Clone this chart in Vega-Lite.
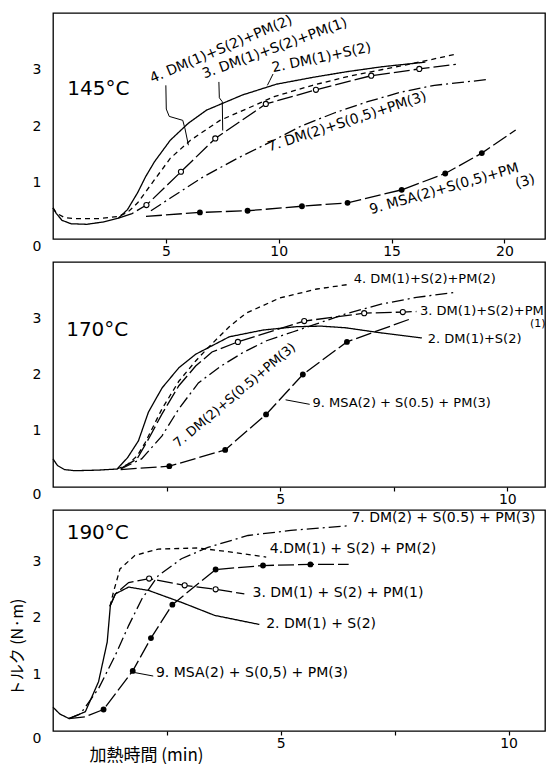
{
"$schema":"https://vega.github.io/schema/vega-lite/v6.json",
"padding":{"left":8,"top":12,"right":0,"bottom":0},
"background":"white",
"config":{"font":"DejaVu Sans","view":{"stroke":"black","strokeWidth":1.3},"axis":{"labelColor":"black","labelFontSize":14,"labelFont":"DejaVu Sans","grid":false,"domain":false,"tickColor":"black","tickWidth":1.2}},
"spacing":2,
"datasets":{
"curves":[
{"p":1,"s":"2","x":0,"y":0.55},{"p":1,"s":"2","x":0.15,"y":0.45},{"p":1,"s":"2","x":0.4,"y":0.33},{"p":1,"s":"2","x":0.8,"y":0.27},{"p":1,"s":"2","x":1.5,"y":0.26},{"p":1,"s":"2","x":2.2,"y":0.3},{"p":1,"s":"2","x":2.9,"y":0.37},{"p":1,"s":"2","x":3.3,"y":0.52},{"p":1,"s":"2","x":3.75,"y":0.82},{"p":1,"s":"2","x":4.1,"y":1.1},{"p":1,"s":"2","x":4.5,"y":1.37},{"p":1,"s":"2","x":5.2,"y":1.75},{"p":1,"s":"2","x":6.0,"y":2.05},{"p":1,"s":"2","x":6.8,"y":2.28},{"p":1,"s":"2","x":8.4,"y":2.55},{"p":1,"s":"2","x":9.9,"y":2.74},{"p":1,"s":"2","x":11.5,"y":2.86},{"p":1,"s":"2","x":13,"y":2.96},{"p":1,"s":"2","x":14.6,"y":3.05},{"p":1,"s":"2","x":16.5,"y":3.13},
{"p":1,"s":"4","x":0,"y":0.55},{"p":1,"s":"4","x":0.15,"y":0.46},{"p":1,"s":"4","x":0.5,"y":0.38},{"p":1,"s":"4","x":1,"y":0.36},{"p":1,"s":"4","x":2,"y":0.36},{"p":1,"s":"4","x":2.9,"y":0.4},{"p":1,"s":"4","x":3.3,"y":0.47},{"p":1,"s":"4","x":3.75,"y":0.64},{"p":1,"s":"4","x":4.5,"y":1.05},{"p":1,"s":"4","x":5.2,"y":1.43},{"p":1,"s":"4","x":6.1,"y":1.75},{"p":1,"s":"4","x":7.4,"y":2.1},{"p":1,"s":"4","x":8.9,"y":2.36},{"p":1,"s":"4","x":9.8,"y":2.52},{"p":1,"s":"4","x":11.5,"y":2.72},{"p":1,"s":"4","x":13,"y":2.87},{"p":1,"s":"4","x":14.6,"y":3.0},{"p":1,"s":"4","x":16.1,"y":3.12},{"p":1,"s":"4","x":17.85,"y":3.27},
{"p":1,"s":"3","x":2.9,"y":0.37},{"p":1,"s":"3","x":3.5,"y":0.45},{"p":1,"s":"3","x":4.14,"y":0.6},{"p":1,"s":"3","x":5.67,"y":1.19},{"p":1,"s":"3","x":7.19,"y":1.78},{"p":1,"s":"3","x":9.43,"y":2.39},{"p":1,"s":"3","x":11.65,"y":2.64},{"p":1,"s":"3","x":14.1,"y":2.89},{"p":1,"s":"3","x":16.23,"y":3.01},{"p":1,"s":"3","x":17.85,"y":3.09},
{"p":1,"s":"7","x":4.34,"y":0.5},{"p":1,"s":"7","x":5.22,"y":0.73},{"p":1,"s":"7","x":6.7,"y":1.11},{"p":1,"s":"7","x":8.18,"y":1.43},{"p":1,"s":"7","x":9.65,"y":1.72},{"p":1,"s":"7","x":11.0,"y":2.0},{"p":1,"s":"7","x":12.46,"y":2.23},{"p":1,"s":"7","x":13.94,"y":2.43},{"p":1,"s":"7","x":15.42,"y":2.6},{"p":1,"s":"7","x":16.9,"y":2.72},{"p":1,"s":"7","x":19.2,"y":2.82},
{"p":1,"s":"9","x":4.12,"y":0.4},{"p":1,"s":"9","x":6.51,"y":0.47},{"p":1,"s":"9","x":8.62,"y":0.5},{"p":1,"s":"9","x":11.03,"y":0.58},{"p":1,"s":"9","x":13.05,"y":0.64},{"p":1,"s":"9","x":15.45,"y":0.87},{"p":1,"s":"9","x":17.38,"y":1.16},{"p":1,"s":"9","x":19.0,"y":1.52},{"p":1,"s":"9","x":20.5,"y":1.93},
{"p":2,"s":"2","x":0,"y":0.5},{"p":2,"s":"2","x":0.1,"y":0.38},{"p":2,"s":"2","x":0.25,"y":0.31},{"p":2,"s":"2","x":0.48,"y":0.29},{"p":2,"s":"2","x":1.0,"y":0.3},{"p":2,"s":"2","x":1.41,"y":0.32},{"p":2,"s":"2","x":1.64,"y":0.52},{"p":2,"s":"2","x":1.88,"y":0.82},{"p":2,"s":"2","x":2.1,"y":1.33},{"p":2,"s":"2","x":2.4,"y":1.76},{"p":2,"s":"2","x":2.77,"y":2.12},{"p":2,"s":"2","x":3.14,"y":2.36},{"p":2,"s":"2","x":3.88,"y":2.67},{"p":2,"s":"2","x":4.62,"y":2.79},{"p":2,"s":"2","x":5.36,"y":2.85},{"p":2,"s":"2","x":5.9,"y":2.86},{"p":2,"s":"2","x":6.45,"y":2.83},{"p":2,"s":"2","x":7.22,"y":2.74},{"p":2,"s":"2","x":8.12,"y":2.65},
{"p":2,"s":"4","x":1.41,"y":0.32},{"p":2,"s":"4","x":1.64,"y":0.4},{"p":2,"s":"4","x":1.85,"y":0.55},{"p":2,"s":"4","x":2.03,"y":0.79},{"p":2,"s":"4","x":2.4,"y":1.39},{"p":2,"s":"4","x":2.77,"y":1.88},{"p":2,"s":"4","x":3.14,"y":2.24},{"p":2,"s":"4","x":3.43,"y":2.49},{"p":2,"s":"4","x":3.88,"y":2.85},{"p":2,"s":"4","x":4.25,"y":3.09},{"p":2,"s":"4","x":4.99,"y":3.36},{"p":2,"s":"4","x":5.81,"y":3.52},{"p":2,"s":"4","x":6.5,"y":3.6},
{"p":2,"s":"3","x":1.49,"y":0.33},{"p":2,"s":"3","x":1.85,"y":0.5},{"p":2,"s":"3","x":2.1,"y":0.85},{"p":2,"s":"3","x":2.4,"y":1.3},{"p":2,"s":"3","x":2.77,"y":1.8},{"p":2,"s":"3","x":3.14,"y":2.15},{"p":2,"s":"3","x":3.5,"y":2.4},{"p":2,"s":"3","x":4.07,"y":2.58},{"p":2,"s":"3","x":5.53,"y":2.95},{"p":2,"s":"3","x":6.85,"y":3.09},{"p":2,"s":"3","x":7.7,"y":3.11},{"p":2,"s":"3","x":8.0,"y":3.12},
{"p":2,"s":"7","x":1.49,"y":0.32},{"p":2,"s":"7","x":1.95,"y":0.5},{"p":2,"s":"7","x":2.4,"y":0.91},{"p":2,"s":"7","x":2.77,"y":1.39},{"p":2,"s":"7","x":3.2,"y":1.85},{"p":2,"s":"7","x":3.7,"y":2.15},{"p":2,"s":"7","x":4.18,"y":2.39},{"p":2,"s":"7","x":4.7,"y":2.6},{"p":2,"s":"7","x":5.29,"y":2.76},{"p":2,"s":"7","x":5.8,"y":2.9},{"p":2,"s":"7","x":6.45,"y":3.08},{"p":2,"s":"7","x":7.22,"y":3.25},{"p":2,"s":"7","x":8.0,"y":3.37},{"p":2,"s":"7","x":8.85,"y":3.46},
{"p":2,"s":"9","x":1.49,"y":0.31},{"p":2,"s":"9","x":2.56,"y":0.37},{"p":2,"s":"9","x":3.79,"y":0.66},{"p":2,"s":"9","x":4.69,"y":1.29},{"p":2,"s":"9","x":5.5,"y":2.0},{"p":2,"s":"9","x":6.47,"y":2.58},{"p":2,"s":"9","x":7.84,"y":2.98},
{"p":3,"s":"2","x":0,"y":0.42},{"p":3,"s":"2","x":0.15,"y":0.3},{"p":3,"s":"2","x":0.35,"y":0.22},{"p":3,"s":"2","x":0.71,"y":0.34},{"p":3,"s":"2","x":1.0,"y":0.87},{"p":3,"s":"2","x":1.19,"y":1.57},{"p":3,"s":"2","x":1.26,"y":2.22},{"p":3,"s":"2","x":1.37,"y":2.42},{"p":3,"s":"2","x":1.66,"y":2.54},{"p":3,"s":"2","x":2.1,"y":2.48},{"p":3,"s":"2","x":2.82,"y":2.27},{"p":3,"s":"2","x":3.55,"y":2.04},{"p":3,"s":"2","x":4.53,"y":1.88},
{"p":3,"s":"4","x":1.25,"y":2.2},{"p":3,"s":"4","x":1.33,"y":2.46},{"p":3,"s":"4","x":1.47,"y":2.86},{"p":3,"s":"4","x":1.8,"y":3.1},{"p":3,"s":"4","x":2.31,"y":3.21},{"p":3,"s":"4","x":3.18,"y":3.23},{"p":3,"s":"4","x":3.98,"y":3.15},{"p":3,"s":"4","x":4.68,"y":3.07},
{"p":3,"s":"3","x":1.25,"y":2.2},{"p":3,"s":"3","x":1.37,"y":2.42},{"p":3,"s":"3","x":1.66,"y":2.62},{"p":3,"s":"3","x":2.11,"y":2.69},{"p":3,"s":"3","x":2.89,"y":2.57},{"p":3,"s":"3","x":3.57,"y":2.5},{"p":3,"s":"3","x":4.2,"y":2.42},
{"p":3,"s":"7","x":0.35,"y":0.22},{"p":3,"s":"7","x":0.6,"y":0.3},{"p":3,"s":"7","x":1.0,"y":0.75},{"p":3,"s":"7","x":1.37,"y":1.34},{"p":3,"s":"7","x":1.66,"y":1.86},{"p":3,"s":"7","x":1.95,"y":2.33},{"p":3,"s":"7","x":2.31,"y":2.74},{"p":3,"s":"7","x":2.82,"y":3.04},{"p":3,"s":"7","x":3.4,"y":3.24},{"p":3,"s":"7","x":4.28,"y":3.45},{"p":3,"s":"7","x":5.22,"y":3.54},{"p":3,"s":"7","x":6.45,"y":3.62},
{"p":3,"s":"9","x":0.35,"y":0.22},{"p":3,"s":"9","x":0.7,"y":0.25},{"p":3,"s":"9","x":1.11,"y":0.38},{"p":3,"s":"9","x":1.75,"y":1.06},{"p":3,"s":"9","x":2.15,"y":1.64},{"p":3,"s":"9","x":2.62,"y":2.23},{"p":3,"s":"9","x":3.57,"y":2.85},{"p":3,"s":"9","x":4.61,"y":2.92},{"p":3,"s":"9","x":5.65,"y":2.94},{"p":3,"s":"9","x":6.49,"y":2.94}
],
"markers":[
{"p":1,"s":"3","x":4.14,"y":0.6},{"p":1,"s":"3","x":5.67,"y":1.19},{"p":1,"s":"3","x":7.19,"y":1.78},{"p":1,"s":"3","x":9.43,"y":2.39},{"p":1,"s":"3","x":11.65,"y":2.64},{"p":1,"s":"3","x":14.1,"y":2.89},{"p":1,"s":"3","x":16.23,"y":3.01},
{"p":1,"s":"9","x":6.51,"y":0.47},{"p":1,"s":"9","x":8.62,"y":0.5},{"p":1,"s":"9","x":11.03,"y":0.58},{"p":1,"s":"9","x":13.05,"y":0.64},{"p":1,"s":"9","x":15.45,"y":0.87},{"p":1,"s":"9","x":17.38,"y":1.16},{"p":1,"s":"9","x":19.0,"y":1.52},
{"p":2,"s":"3","x":4.07,"y":2.58},{"p":2,"s":"3","x":5.53,"y":2.95},{"p":2,"s":"3","x":6.85,"y":3.09},{"p":2,"s":"3","x":7.7,"y":3.11},
{"p":2,"s":"9","x":2.56,"y":0.37},{"p":2,"s":"9","x":3.79,"y":0.66},{"p":2,"s":"9","x":4.69,"y":1.29},{"p":2,"s":"9","x":5.5,"y":2.0},{"p":2,"s":"9","x":6.47,"y":2.58},
{"p":3,"s":"3","x":2.11,"y":2.69},{"p":3,"s":"3","x":2.89,"y":2.57},{"p":3,"s":"3","x":3.57,"y":2.5},
{"p":3,"s":"9","x":1.11,"y":0.38},{"p":3,"s":"9","x":1.75,"y":1.06},{"p":3,"s":"9","x":2.15,"y":1.64},{"p":3,"s":"9","x":2.62,"y":2.23},{"p":3,"s":"9","x":3.57,"y":2.85},{"p":3,"s":"9","x":4.61,"y":2.92},{"p":3,"s":"9","x":5.65,"y":2.94}
],
"leads":[
{"p":1,"id":"a","x":5.0,"y":2.72},{"p":1,"id":"a","x":5.02,"y":2.3},{"p":1,"id":"a","x":5.15,"y":2.17},{"p":1,"id":"a","x":5.75,"y":2.1},{"p":1,"id":"a","x":5.85,"y":1.95},{"p":1,"id":"a","x":6.0,"y":1.66},
{"p":1,"id":"b","x":7.35,"y":2.78},{"p":1,"id":"b","x":7.37,"y":2.5},{"p":1,"id":"b","x":7.5,"y":2.43},{"p":1,"id":"b","x":7.52,"y":1.92},
{"p":1,"id":"c","x":9.5,"y":2.72},{"p":1,"id":"c","x":9.6,"y":2.8},{"p":1,"id":"c","x":9.75,"y":2.92},
{"p":2,"id":"d","x":5.12,"y":1.55},{"p":2,"id":"d","x":5.65,"y":1.47},
{"p":3,"id":"e","x":1.8,"y":1.03},{"p":3,"id":"e","x":2.2,"y":0.97}
],
"labels":[
{"p":1,"id":"t","text":"145°C","x":0.63,"y":2.66},
{"p":1,"id":"r4","text":"4. DM(1)+S(2)+PM(2)","x":4.4,"y":2.76},
{"p":1,"id":"r3","text":"3. DM(1)+S(2)+PM(1)","x":6.7,"y":2.84},
{"p":1,"id":"r2","text":"2. DM(1)+S(2)","x":9.75,"y":2.95},
{"p":1,"id":"r7","text":"7. DM(2)+S(0,5)+PM(3)","x":9.58,"y":1.55},
{"p":1,"id":"r9","text":"9. MSA(2)+S(0,5)+PM","x":14.09,"y":0.44},
{"p":1,"id":"r9","text":"(3)","x":20.55,"y":0.9},
{"p":2,"id":"t","text":"170°C","x":0.29,"y":2.8},
{"p":2,"id":"h","text":"4. DM(1)+S(2)+PM(2)","x":6.62,"y":3.7},
{"p":2,"id":"h","text":"3. DM(1)+S(2)+PM","x":8.08,"y":3.13},
{"p":2,"id":"s","text":"(1)","x":10.5,"y":2.9},
{"p":2,"id":"h","text":"2. DM(1)+S(2)","x":8.25,"y":2.64},
{"p":2,"id":"h","text":"9. MSA(2) + S(0.5) + PM(3)","x":5.71,"y":1.49},
{"p":2,"id":"r7","text":"7. DM(2)+S(0.5)+PM(3)","x":4.0,"y":1.63},
{"p":3,"id":"t","text":"190°C","x":0.3,"y":3.5},
{"p":3,"id":"h","text":"7. DM(2) + S(0.5) + PM(3)","x":6.55,"y":3.76},
{"p":3,"id":"h","text":"4.DM(1) + S(2) + PM(2)","x":4.76,"y":3.21},
{"p":3,"id":"h","text":"3. DM(1) + S(2) + PM(1)","x":4.38,"y":2.43},
{"p":3,"id":"h","text":"2. DM(1) + S(2)","x":4.68,"y":1.88},
{"p":3,"id":"h","text":"9. MSA(2) + S(0,5) + PM(3)","x":2.26,"y":1.02}
]
},
"vconcat":[
{"width":492,"height":226,
"layer":[
{"data":{"name":"curves"},"transform":[{"filter":"datum.p==1"}],"mark":{"type":"line","color":"black","strokeWidth":1.3},
"encoding":{"x":{"field":"x","type":"quantitative","scale":{"domain":[0,21.8],"nice":false,"zero":false},"axis":{"values":[5,10,15,20],"title":null,"tickSize":4,"labelPadding":1}},
"y":{"field":"y","type":"quantitative","scale":{"domain":[0,4],"nice":false},"axis":{"values":[0,1,2,3],"format":"d","title":null,"ticks":false,"labelPadding":12,"labelBaseline":{"condition":{"test":"datum.value==0","value":"top"},"value":"middle"}}},
"detail":{"field":"s"},
"strokeDash":{"field":"s","type":"nominal","scale":{"domain":["2","3","4","7","9"],"range":[[1,0],[16,4],[5,4],[12,4,2,4],[16,4]]},"legend":null}}},
{"data":{"name":"leads"},"transform":[{"filter":"datum.p==1"}],"mark":{"type":"line","color":"black","strokeWidth":1},"encoding":{"x":{"field":"x","type":"quantitative"},"y":{"field":"y","type":"quantitative"},"detail":{"field":"id"}}},
{"data":{"name":"markers"},"transform":[{"filter":"datum.p==1 && datum.s=='3'"}],"mark":{"type":"point","shape":"circle","filled":true,"fill":"white","stroke":"black","strokeWidth":1.1,"size":26,"opacity":1},"encoding":{"x":{"field":"x","type":"quantitative"},"y":{"field":"y","type":"quantitative"}}},
{"data":{"name":"markers"},"transform":[{"filter":"datum.p==1 && datum.s=='9'"}],"mark":{"type":"circle","color":"black","size":34,"opacity":1},"encoding":{"x":{"field":"x","type":"quantitative"},"y":{"field":"y","type":"quantitative"}}},
{"data":{"name":"labels"},"transform":[{"filter":"datum.p==1 && datum.id=='t'"}],"mark":{"type":"text","align":"left","baseline":"middle","fontSize":20,"color":"black"},"encoding":{"x":{"field":"x","type":"quantitative"},"y":{"field":"y","type":"quantitative"},"text":{"field":"text"}}},
{"data":{"name":"labels"},"transform":[{"filter":"datum.p==1 && datum.id=='r4'"}],"mark":{"type":"text","align":"left","baseline":"alphabetic","fontSize":14,"angle":-23,"color":"black"},"encoding":{"x":{"field":"x","type":"quantitative"},"y":{"field":"y","type":"quantitative"},"text":{"field":"text"}}},
{"data":{"name":"labels"},"transform":[{"filter":"datum.p==1 && datum.id=='r3'"}],"mark":{"type":"text","align":"left","baseline":"alphabetic","fontSize":14,"angle":-20,"color":"black"},"encoding":{"x":{"field":"x","type":"quantitative"},"y":{"field":"y","type":"quantitative"},"text":{"field":"text"}}},
{"data":{"name":"labels"},"transform":[{"filter":"datum.p==1 && datum.id=='r2'"}],"mark":{"type":"text","align":"left","baseline":"alphabetic","fontSize":14,"angle":-12,"color":"black"},"encoding":{"x":{"field":"x","type":"quantitative"},"y":{"field":"y","type":"quantitative"},"text":{"field":"text"}}},
{"data":{"name":"labels"},"transform":[{"filter":"datum.p==1 && datum.id=='r7'"}],"mark":{"type":"text","align":"left","baseline":"alphabetic","fontSize":14,"angle":-18,"color":"black"},"encoding":{"x":{"field":"x","type":"quantitative"},"y":{"field":"y","type":"quantitative"},"text":{"field":"text"}}},
{"data":{"name":"labels"},"transform":[{"filter":"datum.p==1 && datum.id=='r9'"}],"mark":{"type":"text","align":"left","baseline":"alphabetic","fontSize":14,"angle":-16,"color":"black"},"encoding":{"x":{"field":"x","type":"quantitative"},"y":{"field":"y","type":"quantitative"},"text":{"field":"text"}}}
]},
{"width":492,"height":225,
"layer":[
{"data":{"name":"curves"},"transform":[{"filter":"datum.p==2"}],"mark":{"type":"line","color":"black","strokeWidth":1.3},
"encoding":{"x":{"field":"x","type":"quantitative","scale":{"domain":[0,10.83],"nice":false,"zero":false},"axis":{"values":[2.5,5,7.5,10],"labelExpr":"datum.value % 5 == 0 ? datum.label : ''","title":null,"tickSize":4,"labelPadding":1}},
"y":{"field":"y","type":"quantitative","scale":{"domain":[0,4],"nice":false},"axis":{"values":[0,1,2,3],"format":"d","title":null,"ticks":false,"labelPadding":12,"labelBaseline":{"condition":{"test":"datum.value==0","value":"top"},"value":"middle"}}},
"detail":{"field":"s"},
"strokeDash":{"field":"s","type":"nominal","scale":{"domain":["2","3","4","7","9"],"range":[[1,0],[16,4],[5,4],[12,4,2,4],[16,4]]},"legend":null}}},
{"data":{"name":"leads"},"transform":[{"filter":"datum.p==2"}],"mark":{"type":"line","color":"black","strokeWidth":1},"encoding":{"x":{"field":"x","type":"quantitative"},"y":{"field":"y","type":"quantitative"},"detail":{"field":"id"}}},
{"data":{"name":"markers"},"transform":[{"filter":"datum.p==2 && datum.s=='3'"}],"mark":{"type":"point","shape":"circle","filled":true,"fill":"white","stroke":"black","strokeWidth":1.1,"size":26,"opacity":1},"encoding":{"x":{"field":"x","type":"quantitative"},"y":{"field":"y","type":"quantitative"}}},
{"data":{"name":"markers"},"transform":[{"filter":"datum.p==2 && datum.s=='9'"}],"mark":{"type":"circle","color":"black","size":34,"opacity":1},"encoding":{"x":{"field":"x","type":"quantitative"},"y":{"field":"y","type":"quantitative"}}},
{"data":{"name":"labels"},"transform":[{"filter":"datum.p==2 && datum.id=='t'"}],"mark":{"type":"text","align":"left","baseline":"middle","fontSize":20,"color":"black"},"encoding":{"x":{"field":"x","type":"quantitative"},"y":{"field":"y","type":"quantitative"},"text":{"field":"text"}}},
{"data":{"name":"labels"},"transform":[{"filter":"datum.p==2 && datum.id=='h'"}],"mark":{"type":"text","align":"left","baseline":"middle","fontSize":13,"color":"black"},"encoding":{"x":{"field":"x","type":"quantitative"},"y":{"field":"y","type":"quantitative"},"text":{"field":"text"}}},
{"data":{"name":"labels"},"transform":[{"filter":"datum.p==2 && datum.id=='s'"}],"mark":{"type":"text","align":"left","baseline":"middle","fontSize":11,"color":"black"},"encoding":{"x":{"field":"x","type":"quantitative"},"y":{"field":"y","type":"quantitative"},"text":{"field":"text"}}},
{"data":{"name":"labels"},"transform":[{"filter":"datum.p==2 && datum.id=='r7'"}],"mark":{"type":"text","align":"center","baseline":"middle","fontSize":13,"angle":-40,"color":"black"},"encoding":{"x":{"field":"x","type":"quantitative"},"y":{"field":"y","type":"quantitative"},"text":{"field":"text"}}}
]},
{"width":492,"height":221,
"layer":[
{"data":{"name":"curves"},"transform":[{"filter":"datum.p==3"}],"mark":{"type":"line","color":"black","strokeWidth":1.3},
"encoding":{"x":{"field":"x","type":"quantitative","scale":{"domain":[0,10.8],"nice":false,"zero":false},"axis":{"values":[2.5,5,7.5,10],"labelExpr":"datum.value % 5 == 0 ? datum.label : ''","title":"加熱時間 (min)","titleFont":"Noto Sans CJK JP","titleFontSize":17,"titleFontWeight":"normal","titleColor":"black","titleAnchor":"start","titleAlign":"left","titleX":36,"titlePadding":-3,"tickSize":4,"labelPadding":1}},
"y":{"field":"y","type":"quantitative","scale":{"domain":[0,3.9],"nice":false},"axis":{"values":[0,1,2,3],"format":"d","title":"トルク (N·m)","titleFont":"Noto Sans CJK JP","titleFontSize":16,"titleFontWeight":"normal","titleColor":"black","titlePadding":7,"titleY":137,"ticks":false,"labelPadding":12,"labelBaseline":{"condition":{"test":"datum.value==0","value":"top"},"value":"middle"}}},
"detail":{"field":"s"},
"strokeDash":{"field":"s","type":"nominal","scale":{"domain":["2","3","4","7","9"],"range":[[1,0],[16,4],[5,4],[12,4,2,4],[16,4]]},"legend":null}}},
{"data":{"name":"leads"},"transform":[{"filter":"datum.p==3"}],"mark":{"type":"line","color":"black","strokeWidth":1},"encoding":{"x":{"field":"x","type":"quantitative"},"y":{"field":"y","type":"quantitative"},"detail":{"field":"id"}}},
{"data":{"name":"markers"},"transform":[{"filter":"datum.p==3 && datum.s=='3'"}],"mark":{"type":"point","shape":"circle","filled":true,"fill":"white","stroke":"black","strokeWidth":1.1,"size":26,"opacity":1},"encoding":{"x":{"field":"x","type":"quantitative"},"y":{"field":"y","type":"quantitative"}}},
{"data":{"name":"markers"},"transform":[{"filter":"datum.p==3 && datum.s=='9'"}],"mark":{"type":"circle","color":"black","size":34,"opacity":1},"encoding":{"x":{"field":"x","type":"quantitative"},"y":{"field":"y","type":"quantitative"}}},
{"data":{"name":"labels"},"transform":[{"filter":"datum.p==3 && datum.id=='t'"}],"mark":{"type":"text","align":"left","baseline":"middle","fontSize":20,"color":"black"},"encoding":{"x":{"field":"x","type":"quantitative"},"y":{"field":"y","type":"quantitative"},"text":{"field":"text"}}},
{"data":{"name":"labels"},"transform":[{"filter":"datum.p==3 && datum.id=='h'"}],"mark":{"type":"text","align":"left","baseline":"middle","fontSize":14,"color":"black"},"encoding":{"x":{"field":"x","type":"quantitative"},"y":{"field":"y","type":"quantitative"},"text":{"field":"text"}}}
]}
]
}
